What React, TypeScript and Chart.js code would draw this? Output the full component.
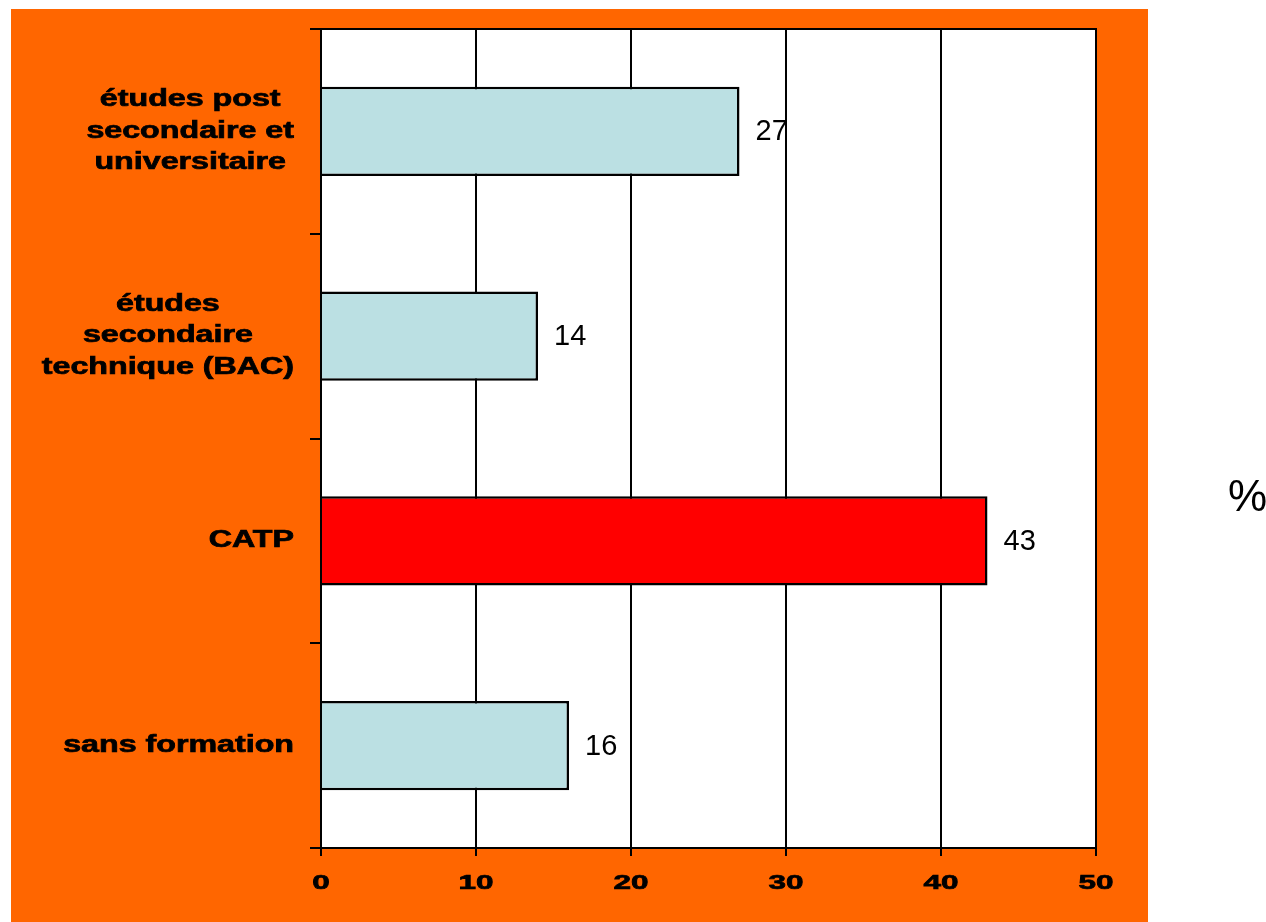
import React, { useEffect, useRef } from "react";
import { Chart, registerables } from "chart.js";

Chart.register(...registerables);

const categories: string[][] = [
  ["études post", "secondaire et", "universitaire"],
  ["études", "secondaire", "technique (BAC)"],
  ["CATP"],
  ["sans formation"],
];
const values: number[] = [27, 14, 43, 16];
const barColors: string[] = ["#BBE0E3", "#BBE0E3", "#FF0000", "#BBE0E3"];
const xTickValues: number[] = [0, 10, 20, 30, 40, 50];
const unitLabel = "%";

const FONT = "'Liberation Sans', Arial, sans-serif";
const ORANGE = "#FF6600";

function drawStretched(ctx: CanvasRenderingContext2D, text: string, cx: number, cy: number, sx: number, heavy: boolean) {
  ctx.save();
  ctx.translate(cx, cy);
  ctx.scale(sx, 1);
  if (heavy) {
    ctx.lineWidth = 0.7;
    ctx.strokeStyle = "#000";
    ctx.strokeText(text, 0, 0);
  }
  ctx.fillText(text, 0, 0);
  ctx.restore();
}

const decorPlugin = {
  id: "decor",
  beforeDraw(chart: any) {
    const ctx = chart.ctx as CanvasRenderingContext2D;
    const a = chart.chartArea;
    ctx.save();
    ctx.fillStyle = "#FFFFFF";
    ctx.fillRect(0, 0, chart.width, chart.height);
    ctx.fillStyle = ORANGE;
    ctx.fillRect(11, 9, 1137, chart.height - 9);
    ctx.fillStyle = "#FFFFFF";
    ctx.fillRect(a.left, a.top, a.right - a.left, a.bottom - a.top);
    ctx.restore();
  },
  afterDraw(chart: any) {
    const ctx = chart.ctx as CanvasRenderingContext2D;
    const a = chart.chartArea;
    const xs = chart.scales.x;
    const ys = chart.scales.y;
    ctx.save();
    ctx.strokeStyle = "#000";
    ctx.lineWidth = 2;
    ctx.beginPath();
    ctx.moveTo(a.left - 11, a.top);
    ctx.lineTo(a.right + 1, a.top);
    ctx.stroke();

    ctx.fillStyle = "#000";
    ctx.textAlign = "center";
    ctx.textBaseline = "middle";

    const sx = 1.4;
    ctx.font = `bold 23px ${FONT}`;
    const lineH = 31.5;
    const rightEdge = 294;
    categories.forEach((lines, i) => {
      const cy = ys.getPixelForValue(i);
      const maxW = Math.max(...lines.map((l) => ctx.measureText(l).width)) * sx;
      const cx = rightEdge - maxW / 2;
      const startY = cy - ((lines.length - 1) * lineH) / 2;
      lines.forEach((l, j) => drawStretched(ctx, l, cx, startY + j * lineH, sx, true));
    });

    ctx.font = `bold 21px ${FONT}`;
    xTickValues.forEach((v) => {
      drawStretched(ctx, String(v), xs.getPixelForValue(v), 883, 1.5, true);
    });

    ctx.font = `29px ${FONT}`;
    ctx.textAlign = "left";
    const meta = chart.getDatasetMeta(0);
    meta.data.forEach((bar: any, i: number) => {
      ctx.fillText(String(values[i]), bar.x + 16, bar.y + 1);
    });

    ctx.font = `44px ${FONT}`;
    ctx.textBaseline = "alphabetic";
    ctx.fillText(unitLabel, 1228, 511);
    ctx.restore();
  },
};

export default function App() {
  const canvasRef = useRef<HTMLCanvasElement | null>(null);

  useEffect(() => {
    const canvas = canvasRef.current;
    if (!canvas) return;
    const chart = new Chart(canvas, {
      type: "bar",
      data: {
        labels: categories.map((c) => c.join(" ")),
        datasets: [
          {
            data: values,
            backgroundColor: barColors,
            borderColor: "#000000",
            borderWidth: 2.5,
            barPercentage: 0.437,
            categoryPercentage: 1,
          },
        ],
      },
      options: {
        indexAxis: "y",
        responsive: false,
        animation: false,
        devicePixelRatio: 1,
        layout: { padding: { left: 0, top: 29, right: 170, bottom: 0 } },
        plugins: {
          legend: { display: false },
          tooltip: { enabled: false },
          title: { display: false },
        },
        scales: {
          x: {
            type: "linear",
            min: 0,
            max: 50,
            ticks: { stepSize: 10, display: false },
            grid: { color: "#000000", lineWidth: 2, tickLength: 8, drawTicks: true },
            border: { display: true, color: "#000000", width: 2 },
            afterFit: (s: any) => {
              s.height = 74;
            },
          },
          y: {
            type: "category",
            ticks: { display: false },
            grid: { offset: true, drawOnChartArea: false, drawTicks: true, tickLength: 11, color: "#000000", lineWidth: 2 },
            border: { display: true, color: "#000000", width: 2 },
            afterFit: (s: any) => {
              s.width = 321;
            },
          },
        },
      },
      plugins: [decorPlugin],
    } as any);
    return () => chart.destroy();
  }, []);

  return (
    <div style={{ position: "absolute", left: 0, top: 0, width: 1266, height: 922, background: "#fff" }}>
      <canvas ref={canvasRef} width={1266} height={922} style={{ display: "block" }} />
    </div>
  );
}
